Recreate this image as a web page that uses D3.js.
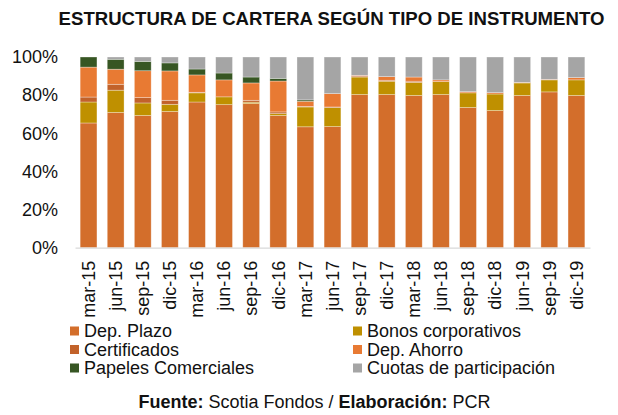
<!DOCTYPE html>
<html>
<head>
<meta charset="utf-8">
<script src="https://cdn.jsdelivr.net/npm/d3@7"></script>
<style>
  body { margin: 0; background: #fff; }
  svg { display: block; font-family: "Liberation Sans", Arial, sans-serif; }
</style>
</head>
<body>
<div id="chart"></div>
<script>
// ===========================
// Estructura de cartera — 100% stacked bars per quarter
// ===========================

const periods = ['mar-15', 'jun-15', 'sep-15', 'dic-15', 'mar-16', 'jun-16', 'sep-16', 'dic-16',
    'mar-17', 'jun-17', 'sep-17', 'dic-17', 'mar-18', 'jun-18', 'sep-18', 'dic-18',
    'jun-19', 'sep-19', 'dic-19'];

const depPlazo = [65.4, 70.9, 69.3, 71.4, 76.4, 75.0, 75.6, 69.3, 63.4, 63.5, 80.3, 80.3, 79.8, 80.3, 73.5, 71.9, 79.8, 81.7, 79.8];
const bonos = [11.0, 11.7, 6.6, 3.8, 4.8, 4.1, 0.7, 1.0, 10.4, 10.0, 9.2, 7.0, 6.9, 6.8, 7.7, 8.7, 6.6, 6.3, 8.2];
const certificados = [2.6, 3.1, 2.8, 2.1, 0.3, 0.0, 1.0, 0.9, 0.3, 0.3, 0.5, 0.5, 0.6, 0.0, 0.0, 0.0, 0.0, 0.0, 0.0];
const depAhorro = [15.7, 7.9, 14.1, 15.4, 9.1, 8.9, 9.1, 16.2, 2.7, 7.0, 0.4, 1.9, 2.2, 0.9, 0.6, 0.7, 0.3, 0.3, 1.2];
const papeles = [5.3, 5.2, 4.9, 4.2, 3.1, 3.6, 3.1, 1.4, 0.7, 0.0, 0.0, 0.0, 0.0, 0.0, 0.0, 0.0, 0.0, 0.0, 0.0];
const cuotas = [0.0, 1.2, 2.3, 3.1, 6.3, 8.4, 10.5, 11.2, 22.5, 19.2, 9.6, 10.3, 10.5, 12.0, 18.2, 18.7, 13.3, 11.7, 10.8];

const yTicks = [0, 20, 40, 60, 80, 100];

const series = [
    { key: 'Dep. Plazo', values: depPlazo, color: '#D36E2B' },
    { key: 'Bonos corporativos', values: bonos, color: '#BF9000' },
    { key: 'Certificados', values: certificados, color: '#C2622A' },
    { key: 'Dep. Ahorro', values: depAhorro, color: '#E87A33' },
    { key: 'Papeles Comerciales', values: papeles, color: '#375623' },
    { key: 'Cuotas de participación', values: cuotas, color: '#A5A5A5' }
];

// table for d3.stack
const rows = periods.map((p, i) => {
    const r = { period: p };
    series.forEach(s => { r[s.key] = s.values[i]; });
    return r;
});

const width = 618, height = 415;
const svg = d3.select('#chart').append('svg')
    .attr('width', width)
    .attr('height', height);

// ── Title ───────────────────────────────────────
svg.append('text')
    .attr('x', 331.5)
    .attr('y', 25)
    .attr('text-anchor', 'middle')
    .style('font-size', '18.6px')
    .style('font-weight', 'bold')
    .style('fill', '#111')
    .text('ESTRUCTURA DE CARTERA SEGÚN TIPO DE INSTRUMENTO');

// ── Scales ──────────────────────────────────────
const x = d3.scaleBand()
    .domain(periods)
    .range([75, 590])
    .paddingInner(0.38)
    .paddingOuter(0.19);

const y = d3.scaleLinear()
    .domain([0, 100])
    .range([247.7, 57]);

const stacked = d3.stack().keys(series.map(s => s.key))(rows);

// ── Bars ────────────────────────────────────────
svg.append('g')
    .selectAll('g')
    .data(stacked)
    .join('g')
    .attr('fill', (d, i) => series[i].color)
    .selectAll('rect')
    .data(d => d.filter(v => v[1] - v[0] > 0))
    .join('rect')
    .attr('x', d => x(d.data.period))
    .attr('y', d => y(d[1]))
    .attr('width', x.bandwidth())
    .attr('height', d => y(d[0]) - y(d[1]))
    .attr('stroke', '#fff')
    .attr('stroke-opacity', 0.45)
    .attr('stroke-width', 0.7);

// ── Axes ────────────────────────────────────────
const yAxis = svg.append('g')
    .attr('transform', 'translate(58,0)')
    .call(d3.axisLeft(y).tickValues(yTicks).tickFormat(d => d + '%').tickSize(0).tickPadding(0));
yAxis.select('.domain').remove();
yAxis.selectAll('text')
    .style('font-size', '18px')
    .style('font-family', '"Liberation Sans", Arial, sans-serif')
    .attr('fill', '#111');

const xAxis = svg.append('g')
    .attr('transform', `translate(0,${y(0)})`)
    .call(d3.axisBottom(x).tickSize(0).tickPadding(0));
xAxis.select('.domain')
    .attr('stroke', '#d9d9d9')
    .attr('stroke-width', 1.2);
xAxis.selectAll('text')
    .attr('transform', 'rotate(-90)')
    .attr('text-anchor', 'end')
    .attr('x', -13)
    .attr('y', 0)
    .attr('dy', '0.35em')
    .style('font-size', '18px')
    .style('font-family', '"Liberation Sans", Arial, sans-serif')
    .attr('fill', '#111');

// ── Legend ──────────────────────────────────────
const legendCols = [70, 353];
const legendRows = [326.5, 345, 363.5];
const legendOrder = ['Dep. Plazo', 'Certificados', 'Papeles Comerciales',
    'Bonos corporativos', 'Dep. Ahorro', 'Cuotas de participación'];

const legend = svg.append('g');
legendOrder.forEach((key, i) => {
    const s = series.find(d => d.key === key);
    const lx = legendCols[Math.floor(i / 3)];
    const ly = legendRows[i % 3];
    legend.append('rect')
        .attr('x', lx)
        .attr('y', ly)
        .attr('width', 9)
        .attr('height', 9)
        .attr('fill', s.color);
    legend.append('text')
        .attr('x', lx + 14)
        .attr('y', ly + 10.5)
        .style('font-size', '18px')
        .style('fill', '#111')
        .text(key);
});

// ── Source ──────────────────────────────────────
const src = svg.append('text')
    .attr('x', 314.5)
    .attr('y', 408)
    .attr('text-anchor', 'middle')
    .style('font-size', '18px')
    .style('fill', '#111');
src.append('tspan').style('font-weight', 'bold').text('Fuente:');
src.append('tspan').text(' Scotia Fondos / ');
src.append('tspan').style('font-weight', 'bold').text('Elaboración:');
src.append('tspan').text(' PCR');
</script>
</body>
</html>
